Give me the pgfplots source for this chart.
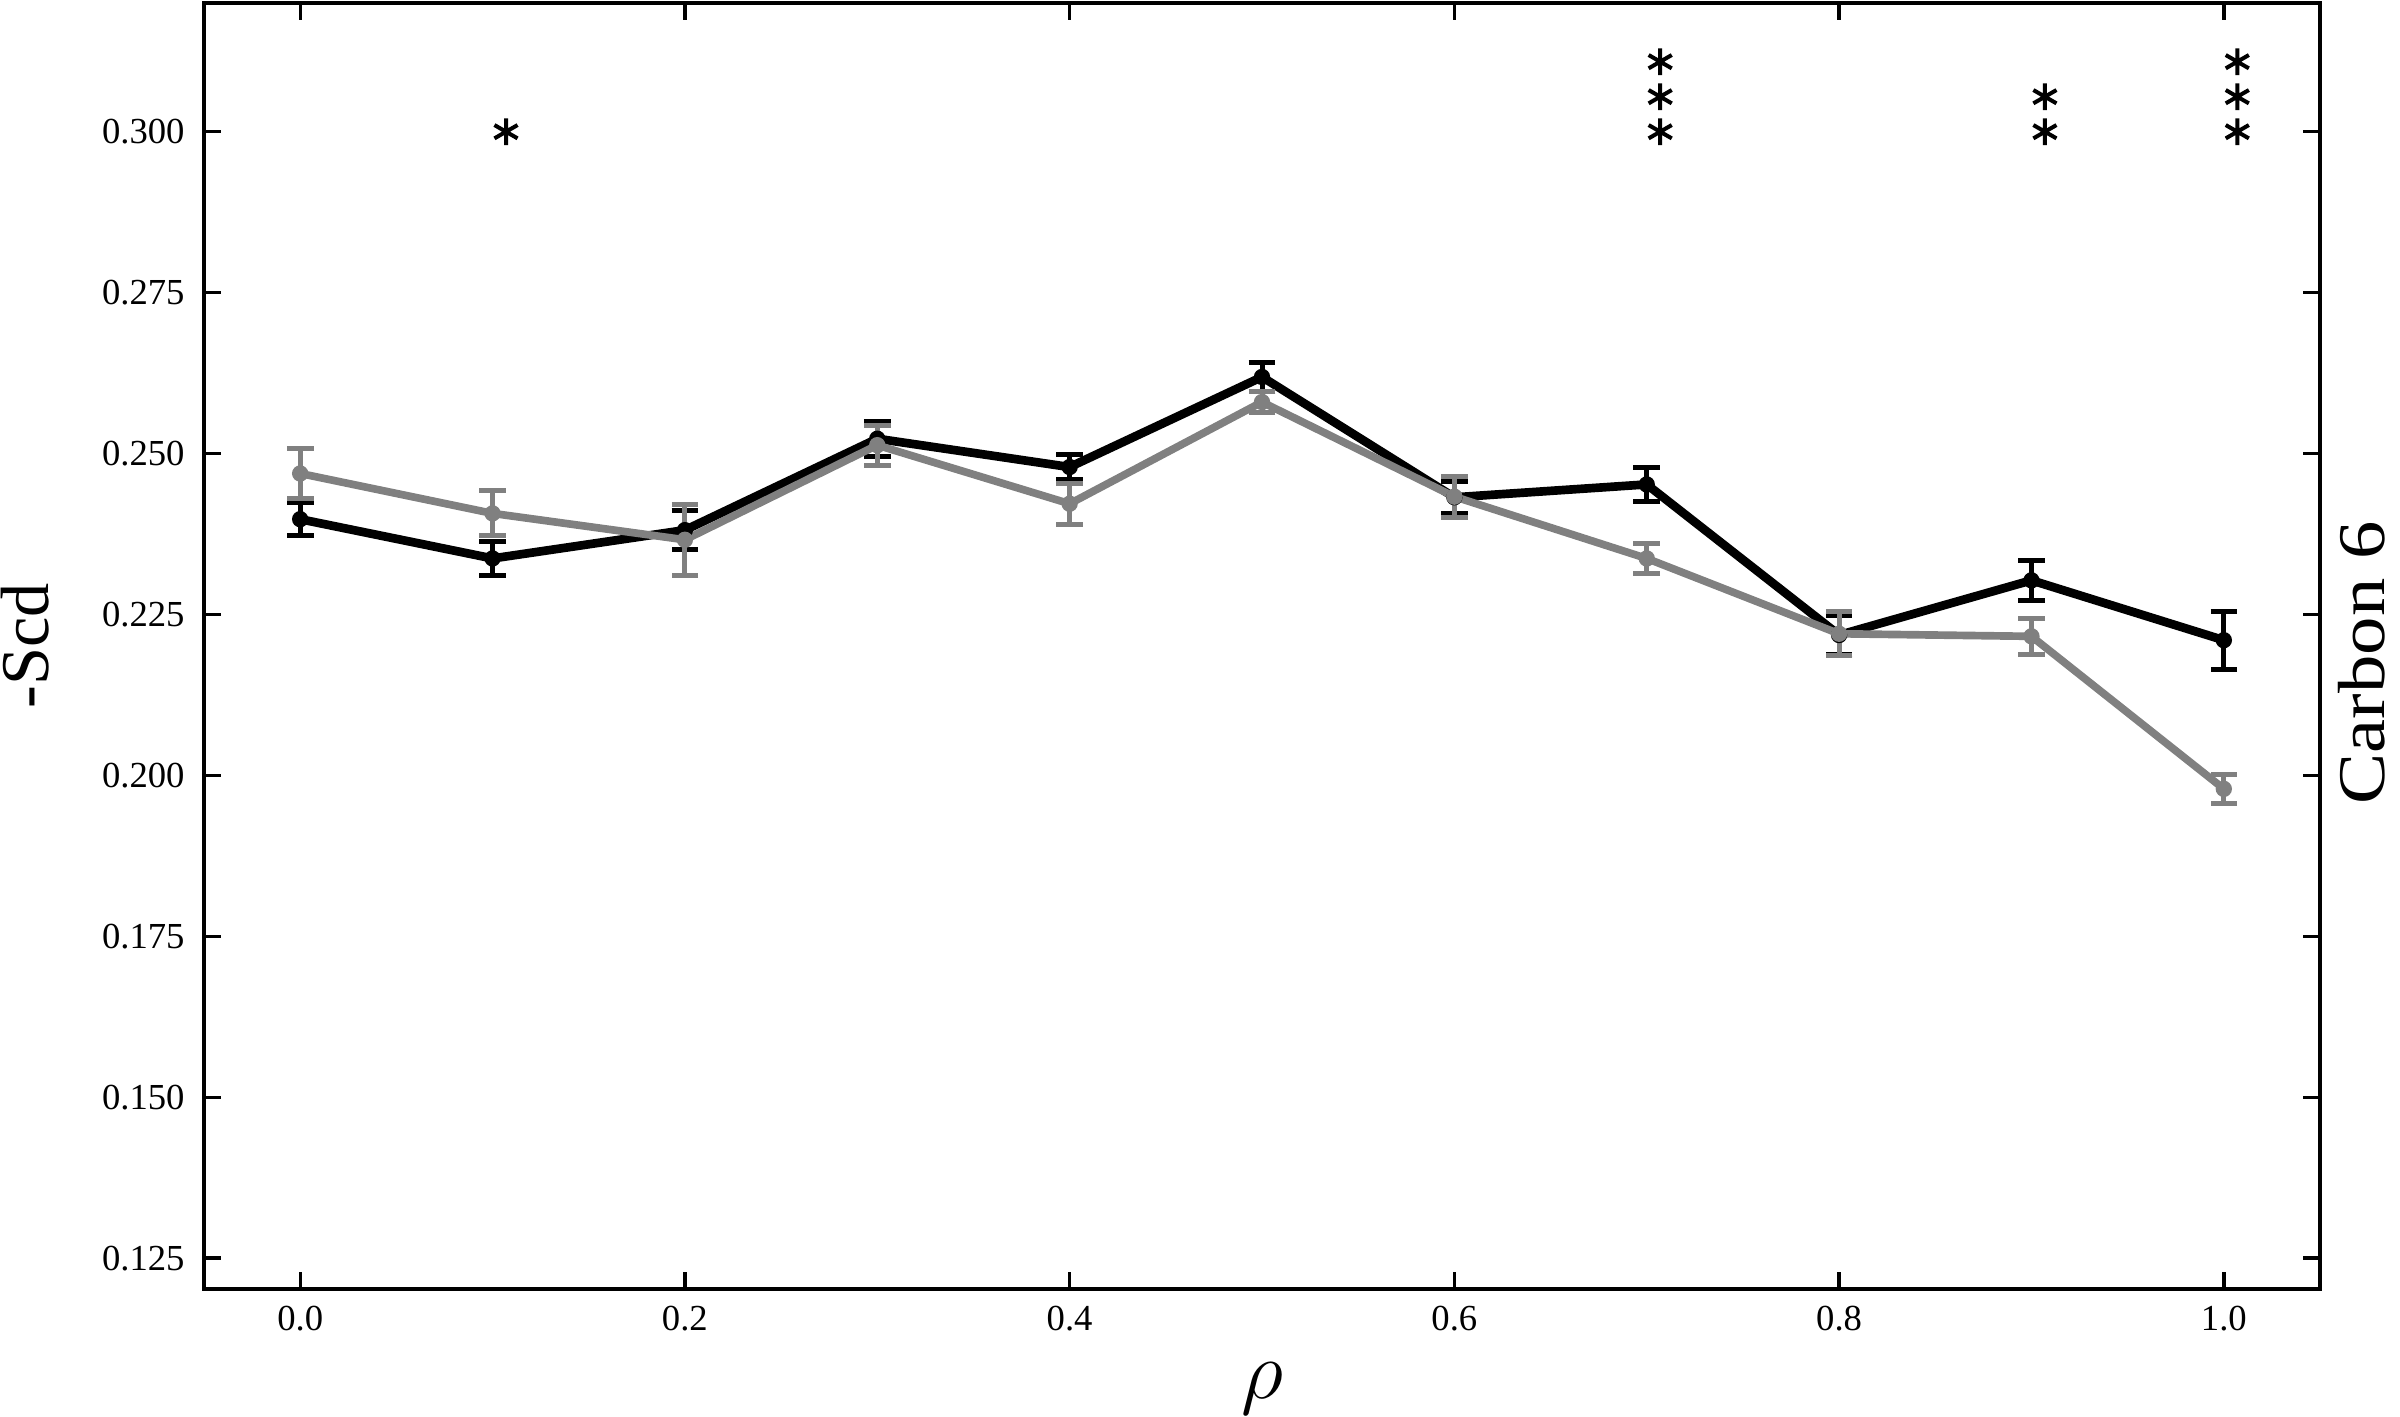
\documentclass[border=0pt]{standalone}
\usepackage{fontspec}
\setmainfont{Liberation Serif}
\usepackage{pgfplots}
\pgfplotsset{compat=1.18}
\usepackage{pgfplotstable}

\definecolor{midgray}{RGB}{128,128,128}

% rho, -Scd, err
\pgfplotstableread{
x     y       e
0.0   0.2398  0.0026
0.1   0.2337  0.0027
0.2   0.2381  0.0030
0.3   0.2523  0.0027
0.4   0.2479  0.0019
0.5   0.2619  0.0023
0.6   0.2432  0.0025
0.7   0.2452  0.0027
0.8   0.2218  0.0030
0.9   0.2303  0.0031
1.0   0.2210  0.0045
}\blackdata

\pgfplotstableread{
x     y       e
0.0   0.2469  0.0039
0.1   0.2407  0.0035
0.2   0.2366  0.0055
0.3   0.2513  0.0031
0.4   0.2422  0.0032
0.5   0.2580  0.0016
0.6   0.2433  0.0032
0.7   0.2337  0.0023
0.8   0.2220  0.0034
0.9   0.2216  0.0028
1.0   0.1979  0.0023
}\graydata

\begin{document}
\begin{tikzpicture}
\begin{axis}[
    name=ax,
    scale only axis,
    width=634.8pt, height=385.8pt,
    xmin=-0.05, xmax=1.05,
    ymin=0.1202, ymax=0.32,
    xtick={0,0.2,0.4,0.6,0.8,1.0},
    ytick={0.125,0.150,0.175,0.200,0.225,0.250,0.275,0.300},
    minor tick num=0,
    tick align=inside,
    major tick length=5pt,
    axis line style={line width=1pt},
    tick style={line width=1pt, black},
    ticklabel style={font=\fontsize{11}{13}\selectfont},
    /pgf/number format/assume math mode=true,
    x tick label style={/pgf/number format/.cd, fixed, fixed zerofill, precision=1, /tikz/.cd, yshift=-1.7pt},
    y tick label style={/pgf/number format/.cd, fixed, fixed zerofill, precision=3, /tikz/.cd, xshift=-2.3pt},
    scaled y ticks=false,
    xlabel={$\rho$},
    xlabel style={at={(axis description cs:0.5,0)}, anchor=north, yshift=-22pt, inner sep=0pt, font=\fontsize{26}{30}\selectfont},
    ylabel={-Scd},
    ylabel style={at={(axis description cs:-0.0728,0.5)}, anchor=south, inner sep=0pt, font=\fontsize{20.5}{24}\selectfont},
    clip=false,
]
\addplot[black, line width=2.6pt, mark=*, mark size=2.2pt, mark options={line width=0.5pt},
    error bars/.cd, y dir=both, y explicit,
    error bar style={line width=1.5pt, black},
    error mark options={rotate=90, mark size=4pt, line width=1.5pt, black}]
    table[x=x, y=y, y error=e] {\blackdata};
\addplot[midgray, line width=2.3pt, mark=*, mark size=2.2pt, mark options={line width=0.5pt},
    error bars/.cd, y dir=both, y explicit,
    error bar style={line width=1.5pt, midgray},
    error mark options={rotate=90, mark size=4pt, line width=1.5pt, midgray}]
    table[x=x, y=y, y error=e] {\graydata};
% significance stars
\addplot[only marks, mark=asterisk, mark size=4pt, mark options={line width=1.2pt, black}]
    coordinates {
    (0.107,0.300)
    (0.707,0.300) (0.707,0.30544) (0.707,0.31088)
    (0.907,0.300) (0.907,0.30544)
    (1.007,0.300) (1.007,0.30544) (1.007,0.31088)
    };
\node[rotate=90, xscale=1.15, anchor=north, inner sep=0pt, font=\fontsize{20}{24}\selectfont]
    at ([xshift=5.3pt]rel axis cs:1,0.487) {Carbon 6};
\end{axis}
\pgfresetboundingbox
\useasboundingbox ([xshift=-61.2pt,yshift=-38.4pt]ax.south west) rectangle ([xshift=24pt,yshift=0.9pt]ax.north east);
\end{tikzpicture}
\end{document}
